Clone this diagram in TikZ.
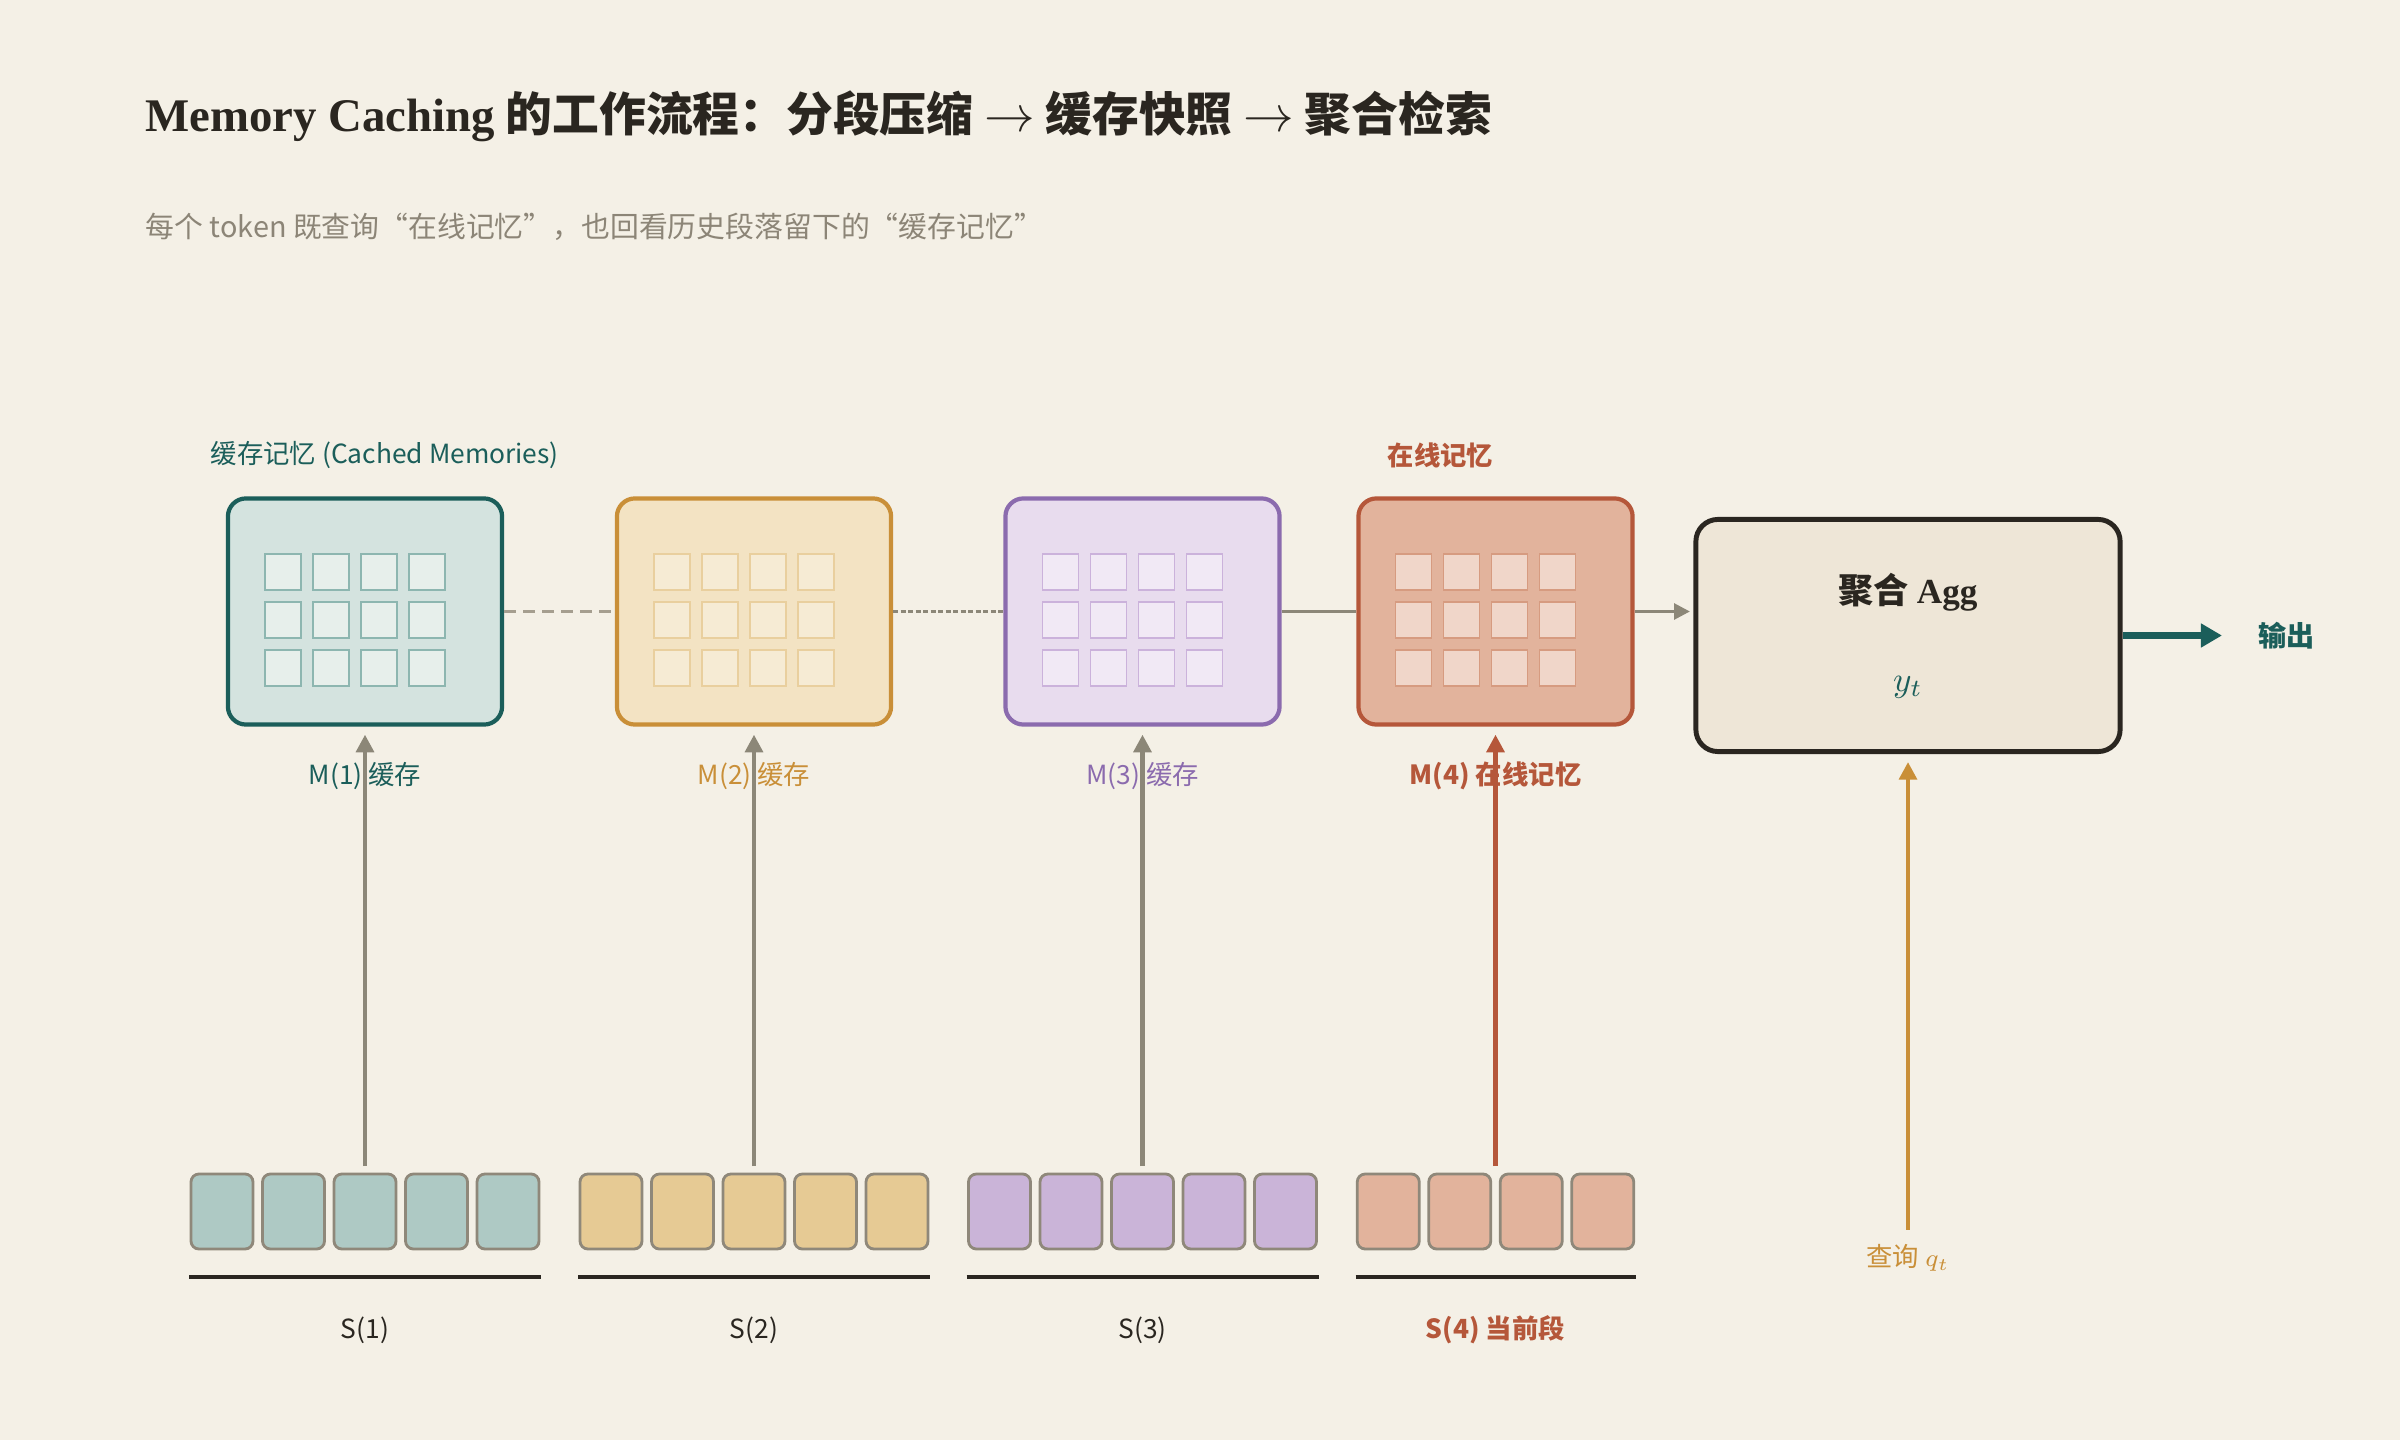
\documentclass[tikz,border=0pt]{standalone}
\usepackage{fontspec}
\setmainfont{Noto Sans CJK SC}
\newfontfamily\seriflatin{Liberation Serif}
\usetikzlibrary{arrows.meta}

\definecolor{paper}{HTML}{F4F0E6}
\definecolor{ink}{HTML}{2A2620}
\definecolor{muted}{HTML}{8C8577}
\definecolor{linkgray}{HTML}{8C8778}
\definecolor{dashgray}{HTML}{A59E8F}
\definecolor{tealink}{HTML}{1B5E5A}
\definecolor{tealfill}{HTML}{D4E3DF}
\definecolor{tealcell}{HTML}{E7EFEB}
\definecolor{tealedge}{HTML}{8DB6B0}
\definecolor{tealtok}{HTML}{AEC9C4}
\definecolor{gold}{HTML}{C98F38}
\definecolor{goldfill}{HTML}{F3E3C3}
\definecolor{goldcell}{HTML}{F6EBD4}
\definecolor{goldedge}{HTML}{E9CF9E}
\definecolor{goldtok}{HTML}{E6CA94}
\definecolor{plum}{HTML}{8B6BAE}
\definecolor{plumfill}{HTML}{E8DCEE}
\definecolor{plumcell}{HTML}{F1E9F5}
\definecolor{plumedge}{HTML}{CBB2DB}
\definecolor{plumtok}{HTML}{CAB4D8}
\definecolor{rust}{HTML}{B5573A}
\definecolor{rustfill}{HTML}{E2B39C}
\definecolor{rustcell}{HTML}{F0D6C9}
\definecolor{rustedge}{HTML}{D69B80}
\definecolor{rusttok}{HTML}{E2B39C}
\definecolor{aggfill}{HTML}{EEE6D7}
\definecolor{tokedge}{HTML}{8F887A}

\begin{document}
\begin{tikzpicture}[x=0.01cm,y=-0.01cm,
    memo/.style={draw, line width=1.2pt, rounded corners=0.18cm, minimum width=2.74cm, minimum height=2.26cm, inner sep=0},
    cell/.style={line width=0.5pt, minimum size=0.36cm, inner sep=0},
    token/.style={draw=tokedge, line width=0.8pt, rounded corners=0.08cm, minimum width=0.62cm, minimum height=0.75cm, inner sep=0},
    feed/.style={-{Triangle[length=5pt,width=5pt]}, line width=1.2pt, shorten <=0.08cm, shorten >=0.08cm},
    lbl/.style={font=\fontsize{7.5pt}{9pt}\selectfont, inner sep=0},
    seg/.style={line width=1.2pt, draw=ink}]
        \useasboundingbox [fill=paper] (0,0) rectangle (2400,1440);
        \path (145,116) node [anchor=west, inner sep=0, text=ink, font=\fontsize{13.3pt}{15pt}\selectfont\bfseries] (title) {{\seriflatin Memory Caching} 的工作流程：分段压缩 $\rightarrow$ 缓存快照 $\rightarrow$ 聚合检索};
        \path (145,227) node [anchor=west, inner sep=0, text=muted, font=\fontsize{8.2pt}{10pt}\selectfont] (subtitle) {每个 token 既查询“在线记忆”，也回看历史段落留下的“缓存记忆”};
        \path (210,455) node [lbl, anchor=west, text=tealink] (cachedlbl) {缓存记忆 (Cached Memories)};
        \path (1387,455) node [lbl, anchor=west, text=rust, font=\fontsize{7.5pt}{9pt}\selectfont\bfseries] (onlinelbl) {在线记忆};
        \begin{scope}[shift={(365,611.5)}]
            \node [memo, draw=tealink, fill=tealfill] (m1) at (0,0) {};
            \foreach \c in {0,...,3} \foreach \r in {0,1,2}
                \node [cell, fill=tealcell, draw=tealedge] (m1c\c\r) at (-82+48*\c,-39.5+48*\r) {};
            \node [lbl, text=tealink] (m1lbl) at (0,164.5) {M(1) 缓存};
        \end{scope}
        \begin{scope}[shift={(754,611.5)}]
            \node [memo, draw=gold, fill=goldfill] (m2) at (0,0) {};
            \foreach \c in {0,...,3} \foreach \r in {0,1,2}
                \node [cell, fill=goldcell, draw=goldedge] (m2c\c\r) at (-82+48*\c,-39.5+48*\r) {};
            \node [lbl, text=gold] (m2lbl) at (0,164.5) {M(2) 缓存};
        \end{scope}
        \begin{scope}[shift={(1142.5,611.5)}]
            \node [memo, draw=plum, fill=plumfill] (m3) at (0,0) {};
            \foreach \c in {0,...,3} \foreach \r in {0,1,2}
                \node [cell, fill=plumcell, draw=plumedge] (m3c\c\r) at (-82+48*\c,-39.5+48*\r) {};
            \node [lbl, text=plum] (m3lbl) at (0,164.5) {M(3) 缓存};
        \end{scope}
        \begin{scope}[shift={(1495.5,611.5)}]
            \node [memo, draw=rust, fill=rustfill] (m4) at (0,0) {};
            \foreach \c in {0,...,3} \foreach \r in {0,1,2}
                \node [cell, fill=rustcell, draw=rustedge] (m4c\c\r) at (-82+48*\c,-39.5+48*\r) {};
            \node [lbl, text=rust, font=\fontsize{7.5pt}{9pt}\selectfont\bfseries] (m4lbl) at (0,164.5) {M(4) 在线记忆};
        \end{scope}
        \node [draw=ink, fill=aggfill, line width=1.4pt, rounded corners=0.22cm, minimum width=4.24cm, minimum height=2.32cm] (agg) at (1908,635.5) {};
        \node [inner sep=0, text=ink, font=\fontsize{10pt}{12pt}\selectfont\bfseries] (aggname) at (1908,592) {聚合 {\seriflatin Agg}};
        \node [inner sep=0, text=tealink, font=\fontsize{10pt}{12pt}\selectfont] (aggy) at (1908,687) {$y_t$};
        \node [inner sep=0, anchor=west, text=tealink, font=\fontsize{8pt}{10pt}\selectfont\bfseries] (out) at (2258,635.5) {输出};
        \node [lbl, text=gold] (query) at (1908,1258) {查询 $q_t$};
        % token segments
        \begin{scope}[shift={(365,1211.5)}]
            \foreach \k [count=\n] in {-2,...,2}
                \node [token, fill=tealtok] (t1\n) at (71.5*\k,0) {};
            \draw [seg] (-176,65.5) -- (176,65.5);
            \node [lbl, text=ink] (s1) at (0,118.5) {S(1)};
            \coordinate (a1) at (0,-37.5);
        \end{scope}
        \begin{scope}[shift={(754,1211.5)}]
            \foreach \k [count=\n] in {-2,...,2}
                \node [token, fill=goldtok] (t2\n) at (71.5*\k,0) {};
            \draw [seg] (-176,65.5) -- (176,65.5);
            \node [lbl, text=ink] (s2) at (0,118.5) {S(2)};
            \coordinate (a2) at (0,-37.5);
        \end{scope}
        \begin{scope}[shift={(1142.5,1211.5)}]
            \foreach \k [count=\n] in {-2,...,2}
                \node [token, fill=plumtok] (t3\n) at (71.5*\k,0) {};
            \draw [seg] (-176,65.5) -- (176,65.5);
            \node [lbl, text=ink] (s3) at (0,118.5) {S(3)};
            \coordinate (a3) at (0,-37.5);
        \end{scope}
        \begin{scope}[shift={(1495.5,1211.5)}]
            \foreach \k [count=\n] in {-1.5,-0.5,0.5,1.5}
                \node [token, fill=rusttok] (t4\n) at (71.5*\k,0) {};
            \draw [seg] (-140,65.5) -- (140,65.5);
            \node [lbl, text=rust, font=\fontsize{7.5pt}{9pt}\selectfont\bfseries] (s4) at (0,118.5) {S(4) 当前段};
            \coordinate (a4) at (0,-37.5);
        \end{scope}
        \draw [feed, linkgray] (a1) -- (m1);
        \draw [feed, linkgray] (a2) -- (m2);
        \draw [feed, linkgray] (a3) -- (m3);
        \draw [feed, rust] (a4) -- (m4);
        \draw [dashgray, line width=0.9pt, dash pattern=on 0.12cm off 0.07cm] (m1) -- (m2);
        \draw [linkgray, line width=0.9pt, dash pattern=on 0.05cm off 0.025cm] (m2) -- (m3);
        \draw [linkgray, line width=0.9pt] (m3) -- (m4);
        \draw [linkgray, line width=0.9pt, -{Triangle[length=4.5pt,width=4.5pt]}, shorten >=1pt] (m4.east) -- (m4.east -| agg.west);
        \draw [gold, feed, shorten <=0.14cm] (query) -- (agg);
        \draw [tealink, line width=1.8pt, -{Triangle[length=6pt,width=6.5pt]}, shorten >=0.36cm] (agg) -- (out);
    \end{tikzpicture}
\end{document}
